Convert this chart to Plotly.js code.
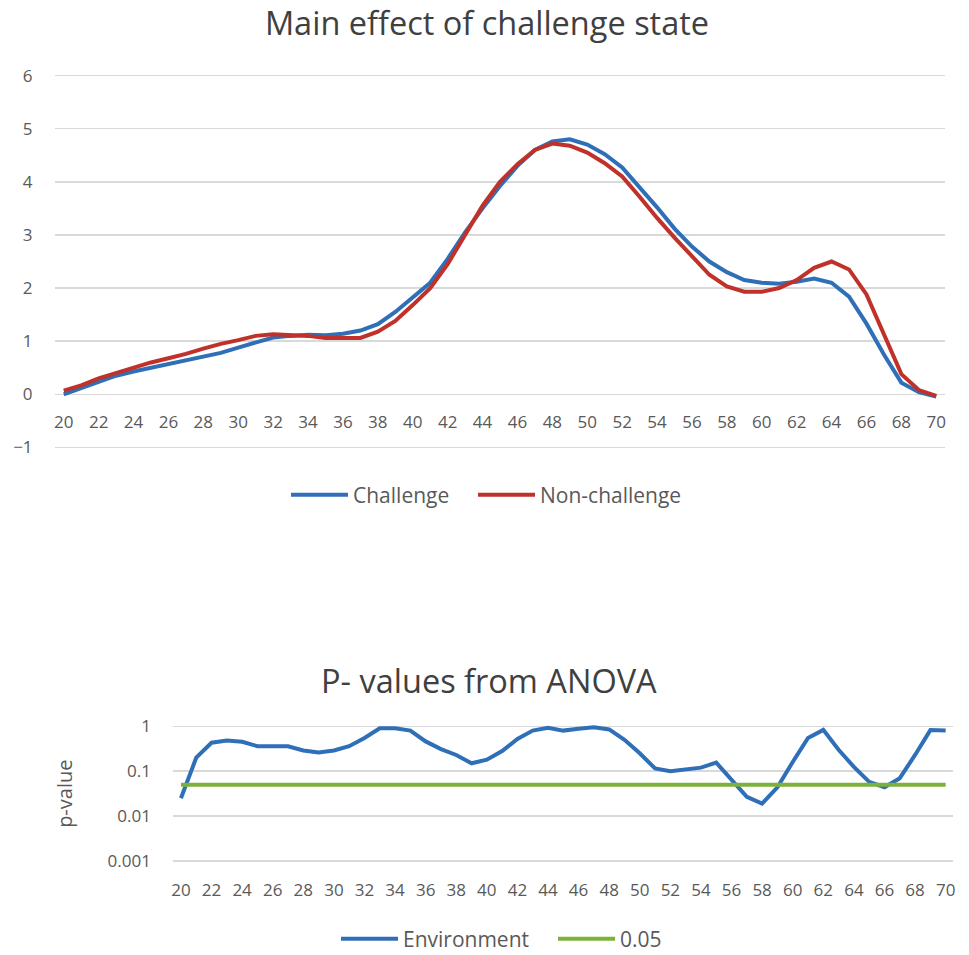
<!DOCTYPE html>
<html>
<head>
<meta charset="utf-8">
<script src="https://cdn.plot.ly/plotly-3.0.1.min.js"></script>
<style>html,body{margin:0;padding:0;background:#fff;}#chart{width:969px;height:955px;}</style>
</head>
<body>
<div id="chart"></div>
<script>
// Ages 20..70
const ages = [20,21,22,23,24,25,26,27,28,29,30,31,32,33,34,35,36,37,38,39,40,41,42,43,44,45,46,47,48,49,50,51,52,53,54,55,56,57,58,59,60,61,62,63,64,65,66,67,68,69,70];

const challenge = [0.00,0.12,0.25,0.35,0.43,0.50,0.57,0.63,0.70,0.78,0.88,0.98,1.07,1.10,1.12,1.11,1.14,1.20,1.32,1.55,1.82,2.10,2.55,3.05,3.50,3.92,4.30,4.60,4.76,4.80,4.70,4.52,4.27,3.90,3.52,3.12,2.78,2.50,2.30,2.15,2.10,2.08,2.12,2.18,2.10,1.84,1.33,0.75,0.22,0.04,-0.04];

const nonChallenge = [0.07,0.17,0.30,0.40,0.50,0.60,0.68,0.76,0.86,0.95,1.02,1.10,1.13,1.12,1.10,1.06,1.06,1.06,1.18,1.38,1.68,2.00,2.45,3.00,3.55,4.00,4.33,4.60,4.72,4.68,4.55,4.35,4.10,3.72,3.32,2.95,2.60,2.25,2.03,1.93,1.93,2.00,2.15,2.38,2.50,2.35,1.88,1.15,0.38,0.08,-0.03];

const environmentP = [0.025,0.20,0.43,0.48,0.45,0.36,0.36,0.36,0.29,0.26,0.29,0.36,0.55,0.90,0.90,0.80,0.46,0.31,0.23,0.15,0.18,0.28,0.52,0.80,0.92,0.80,0.88,0.95,0.85,0.50,0.25,0.115,0.10,0.11,0.12,0.155,0.063,0.027,0.019,0.044,0.16,0.55,0.83,0.30,0.125,0.058,0.044,0.07,0.23,0.82,0.80];

const threshold = ages.map(() => 0.05);

const pTickVals = [0.001, 0.01, 0.1, 1];
const pTickText = ['0.001', '0.01', '0.1', '1'];
const yTickVals = [-1, 0, 1, 2, 3, 4, 5, 6];
const xTickVals = [20,22,24,26,28,30,32,34,36,38,40,42,44,46,48,50,52,54,56,58,60,62,64,66,68,70];

const W = 969, H = 955;
const px = v => v / W;
const py = v => 1 - v / H;

const BLUE = '#2f6fb8', RED = '#c0312a', GREEN = '#7cb23c';
const TXT = '#595959', GRID = '#d9d9d9';
const FONT = 'Open Sans, sans-serif';

const traces = [
  {x: ages, y: challenge, type: 'scatter', mode: 'lines', name: 'Challenge',
   line: {color: BLUE, width: 4}, xaxis: 'x', yaxis: 'y', legend: 'legend'},
  {x: ages, y: nonChallenge, type: 'scatter', mode: 'lines', name: 'Non-challenge',
   line: {color: RED, width: 4}, xaxis: 'x', yaxis: 'y', legend: 'legend2'},
  {x: ages, y: environmentP, type: 'scatter', mode: 'lines', name: 'Environment',
   line: {color: BLUE, width: 4}, xaxis: 'x2', yaxis: 'y2', legend: 'legend3'},
  {x: ages, y: threshold, type: 'scatter', mode: 'lines', name: '0.05',
   line: {color: GREEN, width: 4}, xaxis: 'x2', yaxis: 'y2', legend: 'legend4'}
];

function legendAt(lx, ly) {
  return {orientation: 'h', x: px(lx), y: py(ly), xanchor: 'left', yanchor: 'middle',
          itemwidth: 57, font: {size: 21, color: TXT}, bgcolor: 'rgba(0,0,0,0)'};
}

const layout = {
  width: W, height: H,
  margin: {l: 0, r: 0, t: 0, b: 0, autoexpand: false},
  paper_bgcolor: '#fff', plot_bgcolor: '#fff',
  font: {family: FONT, color: TXT, size: 17},
  showlegend: true,
  title: {text: 'Main effect of challenge state', x: px(487), xanchor: 'center',
          y: py(24), yanchor: 'middle', yref: 'paper',
          font: {family: FONT, size: 32.5, color: '#404040'}},
  annotations: [
    {text: 'P- values from ANOVA', xref: 'paper', yref: 'paper', x: px(489), y: py(680),
     xanchor: 'center', yanchor: 'middle', showarrow: false,
     font: {family: FONT, size: 32.5, color: '#404040'}}
  ],
  xaxis: {
    domain: [px(55), px(945)], range: [19.5, 70.5], anchor: 'free', position: py(392.7),
    showgrid: false, zeroline: false, showline: false,
    tickmode: 'array', tickvals: xTickVals,
    ticks: 'outside', ticklen: 14, tickcolor: 'rgba(0,0,0,0)',
    tickfont: {size: 17, color: TXT}, fixedrange: true
  },
  yaxis: {
    domain: [py(450.1), py(72.9)], range: [-1.05, 6.05], anchor: 'x',
    tickmode: 'array', tickvals: yTickVals,
    showgrid: true, gridcolor: GRID, gridwidth: 1.5, zeroline: false, showline: false,
    ticks: 'outside', ticklen: 18, tickcolor: 'rgba(0,0,0,0)',
    tickfont: {size: 17, color: TXT}
  },
  xaxis2: {
    domain: [px(173.3), px(953.3)], range: [19.5, 70.5], anchor: 'y2',
    showgrid: false, zeroline: false, showline: false,
    tickmode: 'array', tickvals: xTickVals,
    ticks: 'outside', ticklen: 11, tickcolor: 'rgba(0,0,0,0)',
    tickfont: {size: 17, color: TXT}
  },
  yaxis2: {
    domain: [py(863.4), py(724.0)], type: 'log', range: [-3.05, 0.05], anchor: 'x2',
    tickmode: 'array', tickvals: pTickVals, ticktext: pTickText,
    showgrid: true, gridcolor: GRID, gridwidth: 1.5, zeroline: false, showline: false,
    ticks: 'outside', ticklen: 18, tickcolor: 'rgba(0,0,0,0)',
    tickfont: {size: 17, color: TXT},
    title: {text: 'p-value', font: {size: 20, color: TXT}, standoff: 29}
  },
  legend: legendAt(286, 495),
  legend2: legendAt(473, 495),
  legend3: legendAt(336, 939),
  legend4: legendAt(553, 939)
};

Plotly.newPlot('chart', traces, layout, {displayModeBar: false, staticPlot: true});
</script>
</body>
</html>
